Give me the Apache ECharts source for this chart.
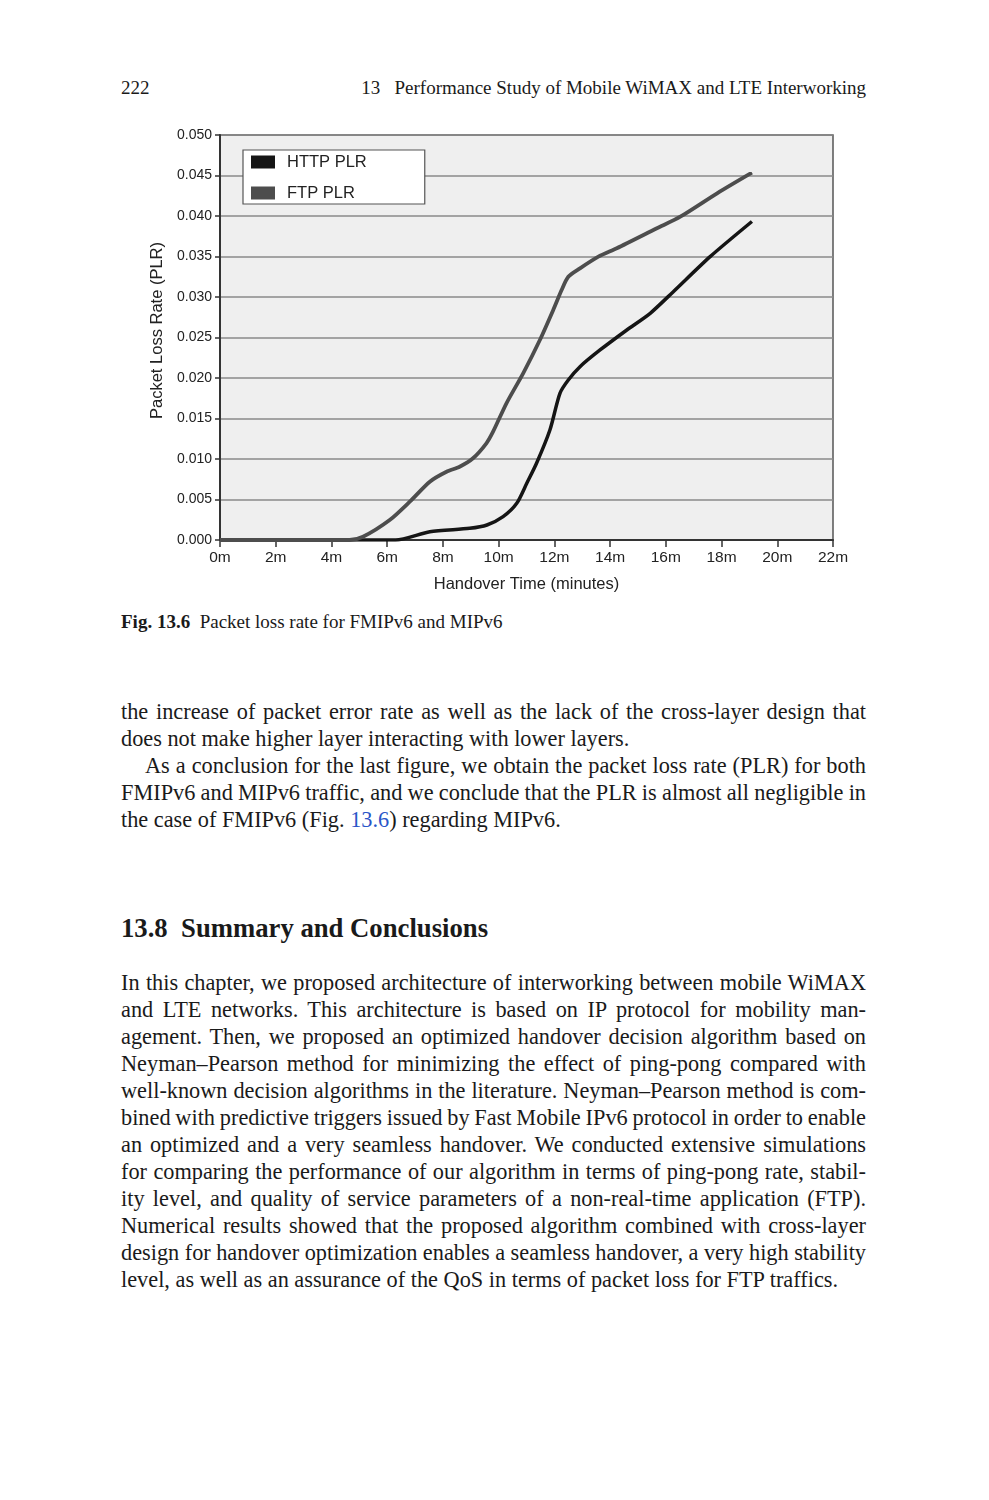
<!DOCTYPE html>
<html>
<head>
<meta charset="utf-8">
<script src="https://cdn.jsdelivr.net/npm/echarts@6/dist/echarts.min.js"></script>
<style>
  html, body { margin: 0; padding: 0; background: #fff; }
  body { width: 989px; height: 1500px; position: relative; overflow: hidden; font-family: "Liberation Serif", "DejaVu Serif", serif; color: #1a1a1a; }
  #chart { position: absolute; left: 0; top: 0; width: 989px; height: 610px; }
  .abs { position: absolute; white-space: nowrap; }
  .line { position: absolute; left: 121px; width: 745px; height: 27px; line-height: 27px; font-size: 22.3px; white-space: nowrap; }
  .line span.t { display: inline-block; }
  a.ref { color: #2a55c8; text-decoration: none; }
</style>
</head>
<body>
<div class="abs" style="left:121px; top:76px; font-size:19px; line-height:24px;">222</div>
<div class="abs" style="right:123px; top:76px; font-size:19px; line-height:24px;">13&nbsp;&nbsp;&nbsp;Performance Study of Mobile WiMAX and LTE Interworking</div>
<div id="chart"></div>
<div class="abs" style="left:121px; top:610px; font-size:19px; line-height:24px;"><b>Fig. 13.6</b>&nbsp;&nbsp;Packet loss rate for FMIPv6 and MIPv6</div>

<div id="body"></div>

<script>
// ---------------- DATA ----------------
const xTicks = [0, 2, 4, 6, 8, 10, 12, 14, 16, 18, 20, 22];        // minutes
const yTicks = [0, 0.005, 0.01, 0.015, 0.02, 0.025, 0.03, 0.035, 0.04, 0.045, 0.05];
const seriesNames = ["HTTP PLR", "FTP PLR"];

// HTTP PLR (black curve)
const httpX = [0, 2, 4, 6.3, 7.53, 8.96, 9.58, 10.16, 10.65, 11.01, 11.36, 11.84, 12.2, 12.5, 12.92, 13.64, 14.6, 15.44, 16.27, 17.59, 19.09];
const httpY = [0, 0, 0, 0, 0.00102, 0.00144, 0.00185, 0.00288, 0.00453, 0.0070, 0.00947, 0.01358, 0.01811, 0.01975, 0.0214, 0.02346, 0.02593, 0.02799, 0.03066, 0.03498, 0.03932];

// FTP PLR (grey curve)
const ftpX = [0, 2, 4, 4.65, 5.13, 6.09, 6.81, 7.53, 8.13, 8.6, 9.08, 9.56, 9.8, 10.28, 10.88, 11.48, 11.96, 12.26, 12.5, 12.92, 13.58, 14.24, 15.68, 16.52, 17.84, 19.09];
const ftpY = [0, 0, 0, 0, 0.0004, 0.00247, 0.00473, 0.0072, 0.00843, 0.00905, 0.01009, 0.01194, 0.01337, 0.01688, 0.02058, 0.02469, 0.0284, 0.03086, 0.0325, 0.03354, 0.03498, 0.03601, 0.03848, 0.03991, 0.0428, 0.04535];

// Page text
const para1 = [
  {t: "the increase of packet error rate as well as the lack of the cross-layer design that", j: true},
  {t: "does not make higher layer interacting with lower layers.", j: false},
  {t: "As a conclusion for the last figure, we obtain the packet loss rate (PLR) for both", j: true, indent: 24},
  {t: "FMIPv6 and MIPv6 traffic, and we conclude that the PLR is almost all negligible in", j: true},
  {t: "the case of FMIPv6 (Fig. <a class=\"ref\">13.6</a>) regarding MIPv6.", j: false, html: true}
];
const heading = "13.8\u2002Summary and Conclusions";
const para2 = [
  "In this chapter, we proposed architecture of interworking between mobile WiMAX",
  "and LTE networks. This architecture is based on IP protocol for mobility man-",
  "agement. Then, we proposed an optimized handover decision algorithm based on",
  "Neyman\u2013Pearson method for minimizing the effect of ping-pong compared with",
  "well-known decision algorithms in the literature. Neyman\u2013Pearson method is com-",
  "bined with predictive triggers issued by Fast Mobile IPv6 protocol in order to enable",
  "an optimized and a very seamless handover. We conducted extensive simulations",
  "for comparing the performance of our algorithm in terms of ping-pong rate, stabil-",
  "ity level, and quality of service parameters of a non-real-time application (FTP).",
  "Numerical results showed that the proposed algorithm combined with cross-layer",
  "design for handover optimization enables a seamless handover, a very high stability",
  "level, as well as an assurance of the QoS in terms of packet loss for FTP traffics."
];

// ---------------- PAGE TEXT ----------------
const bodyEl = document.getElementById('body');
function addLine(top, text, justify, indent, isHtml) {
  const d = document.createElement('div');
  d.className = 'line';
  d.style.top = top + 'px';
  const s = document.createElement('span');
  s.className = 't';
  if (isHtml) s.innerHTML = text; else s.textContent = text;
  if (indent) d.style.paddingLeft = indent + 'px', d.style.width = (745 - indent) + 'px';
  d.appendChild(s);
  bodyEl.appendChild(d);
  if (justify) {
    const avail = 745 - (indent || 0);
    const w = s.getBoundingClientRect().width;
    const n = (s.textContent.match(/ /g) || []).length;
    if (n > 0) s.style.wordSpacing = ((avail - w) / n) + 'px';
  }
}
para1.forEach((l, i) => addLine(698 + 27 * i, l.t, l.j, l.indent, l.html));
const h = document.createElement('div');
h.className = 'abs';
h.style.cssText = 'left:121px; top:912px; font-size:26.7px; line-height:32px; font-weight:bold;';
h.textContent = heading;
bodyEl.appendChild(h);
para2.forEach((t, i) => addLine(969 + 27 * i, t, i < para2.length - 1, 0, false));

// ---------------- CHART ----------------
const chart = echarts.init(document.getElementById('chart'), null, {renderer: 'canvas'});
const sansFont = 'Liberation Sans, Arial, sans-serif';
const colors = ['#151515', '#4d4d4d'];
chart.setOption({
  animation: false,
  backgroundColor: 'transparent',
  grid: {
    left: 220, top: 135, width: 613, height: 405,
    show: true, backgroundColor: '#efefef', borderColor: '#555', borderWidth: 1.5
  },
  legend: {
    data: seriesNames.map(n => ({name: n, icon: 'rect'})),
    orient: 'vertical',
    left: 243, top: 150,
    padding: [3, 58, 2, 8],
    itemGap: 13,
    itemWidth: 24, itemHeight: 13,
    backgroundColor: '#ffffff',
    borderColor: '#555', borderWidth: 1.2,
    textStyle: {fontFamily: sansFont, fontSize: 16.5, color: '#222', lineHeight: 18, padding: [0, 0, 0, 7]}
  },
  xAxis: {
    type: 'value', min: xTicks[0], max: xTicks[xTicks.length - 1], interval: 2,
    name: 'Handover Time (minutes)', nameLocation: 'middle', nameGap: 36,
    nameTextStyle: {fontFamily: sansFont, fontSize: 16.5, color: '#222'},
    axisLine: {show: true, onZero: false, lineStyle: {color: '#333', width: 2}},
    axisTick: {show: true, length: 7, lineStyle: {color: '#333', width: 1.5}},
    axisLabel: {fontFamily: sansFont, fontSize: 15.5, color: '#222', margin: 10, formatter: v => v + 'm'},
    splitLine: {show: false}
  },
  yAxis: {
    type: 'value', min: yTicks[0], max: yTicks[yTicks.length - 1], interval: 0.005,
    name: 'Packet Loss Rate (PLR)', nameLocation: 'middle', nameGap: 52,
    nameTextStyle: {fontFamily: sansFont, fontSize: 16.5, color: '#222', padding: [0, 0, 0, 14]},
    axisLine: {show: true, lineStyle: {color: '#333', width: 2}},
    axisTick: {show: true, length: 5, lineStyle: {color: '#333', width: 1.5}},
    axisLabel: {fontFamily: sansFont, fontSize: 14, color: '#222', margin: 8, formatter: v => v.toFixed(3)},
    splitLine: {show: true, lineStyle: {color: '#8a8a8a', width: 1.5}}
  },
  series: [
    {
      name: seriesNames[0], type: 'line', showSymbol: false, symbol: 'none',
      smooth: 0.25,
      color: colors[0],
      lineStyle: {color: colors[0], width: 3.5},
      itemStyle: {color: colors[0]},
      data: httpX.map((x, i) => [x, httpY[i]])
    },
    {
      name: seriesNames[1], type: 'line', showSymbol: false, symbol: 'none',
      smooth: 0.25,
      color: colors[1],
      lineStyle: {color: colors[1], width: 3.8},
      itemStyle: {color: colors[1]},
      data: ftpX.map((x, i) => [x, ftpY[i]])
    }
  ]
});
</script>
</body>
</html>
